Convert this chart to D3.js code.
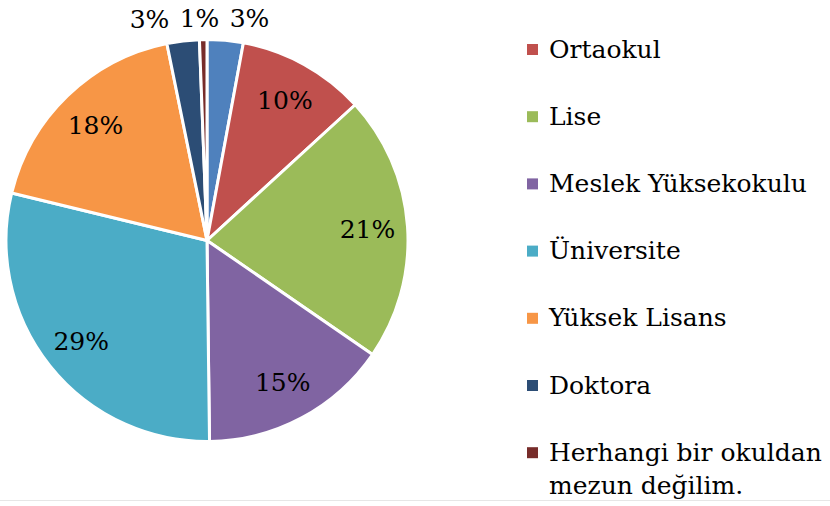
<!DOCTYPE html>
<html>
<head>
<meta charset="utf-8">
<script src="https://cdn.jsdelivr.net/npm/d3@7"></script>
<style>
  body { margin: 0; background: #fff; }
  svg { display: block; }
</style>
</head>
<body>
<div id="chart"></div>
<script>
// education levels, the first legend entry sits above the visible area in the original
const categories = [
  "İlkokul",
  "Ortaokul",
  "Lise",
  "Meslek Yüksekokulu",
  "Üniversite",
  "Yüksek Lisans",
  "Doktora",
  "Herhangi bir okuldan mezun değilim."
];
const shares = [2.9, 10.3, 21.4, 15.2, 29.0, 18.0, 2.6, 0.6];
const colors = ["#4f81bd", "#c0504d", "#9bbb59", "#8064a2", "#4bacc6", "#f79646", "#2c4d75", "#772c2a"];
// wrapped legend text lines
const legendLines = [
  ["İlkokul"], ["Ortaokul"], ["Lise"], ["Meslek Yüksekokulu"], ["Üniversite"],
  ["Yüksek Lisans"], ["Doktora"], ["Herhangi bir okuldan", "mezun değilim."]
];

const width = 830, height = 506;
const cx = 207, cy = 240.5, radius = 201;
const font = "'DejaVu Serif', serif";

let data = categories.map((c, i) => ({ name: c, value: shares[i], color: colors[i], lines: legendLines[i], idx: i }));
let total = d3.sum(shares);
let pct = (v) => Math.round((v / total) * 100) + "%";

let svg = d3.select("#chart").append("svg")
  .attr("width", width)
  .attr("height", height)
  .attr("font-family", font);

svg.append("line")
  .attr("x1", 0).attr("x2", width)
  .attr("y1", 500.5).attr("y2", 500.5)
  .attr("stroke", "#e6e6e6");

let pie = d3.pie().value((d) => d.value).sort(null);
let arc = d3.arc().innerRadius(0).outerRadius(radius);
let arcs = pie(data);

let g = svg.append("g").attr("transform", `translate(${cx},${cy})`);

g.selectAll("path")
  .data(arcs)
  .join("path")
  .attr("d", arc)
  .attr("fill", (d) => d.data.color)
  .attr("stroke", "#fff")
  .attr("stroke-width", 3)
  .attr("stroke-linejoin", "round");

// labels: inside for big slices, outside for the thin ones
let inner = d3.arc().innerRadius(radius * 0.8).outerRadius(radius * 0.8);
let outer = d3.arc().innerRadius(radius + 22).outerRadius(radius + 22);

let labels = arcs.map((d) => {
  let small = d.endAngle - d.startAngle < 0.3;
  let [x, y] = small ? outer.centroid(d) : inner.centroid(d);
  let a = (d.startAngle + d.endAngle) / 2;
  // wrap angles so slices near 12 o'clock sort left to right
  let sortKey = a > Math.PI ? a - 2 * Math.PI : a;
  return { text: pct(d.data.value), x, y, small, sortKey };
});

// spread the outside labels so they do not overlap
let outside = labels.filter((l) => l.small).sort((a, b) => a.sortKey - b.sortKey);
let gap = 50;
let meanX = d3.mean(outside, (l) => l.x) - 4;
outside.forEach((l, i) => {
  l.x = meanX + (i - (outside.length - 1) / 2) * gap;
});

g.selectAll("text.pct")
  .data(labels)
  .join("text")
  .attr("class", "pct")
  .attr("x", (d) => d.x)
  .attr("y", (d) => d.y)
  .attr("dy", "0.36em")
  .attr("text-anchor", "middle")
  .attr("font-size", 25)
  .attr("fill", "#000")
  .text((d) => d.text);

// legend, only the entries that fall inside the frame
let legendX = 527, step = 67.2, legendTop = 49.5 - step;
let legendY = (i) => legendTop + i * step;
let shown = data.filter((d) => legendY(d.idx) > 0);

let items = svg.append("g").selectAll("g")
  .data(shown)
  .join("g")
  .attr("transform", (d) => `translate(${legendX},${legendY(d.idx)})`);

items.append("rect")
  .attr("x", 0).attr("y", -5.5)
  .attr("width", 11).attr("height", 11)
  .attr("fill", (d) => d.color);

items.append("text")
  .attr("x", 22)
  .attr("y", 8)
  .attr("font-size", 25)
  .attr("fill", "#000")
  .selectAll("tspan")
  .data((d) => d.lines)
  .join("tspan")
  .attr("x", 22)
  .attr("dy", (d, i) => (i === 0 ? 0 : 33.5))
  .text((d) => d);
</script>
</body>
</html>
